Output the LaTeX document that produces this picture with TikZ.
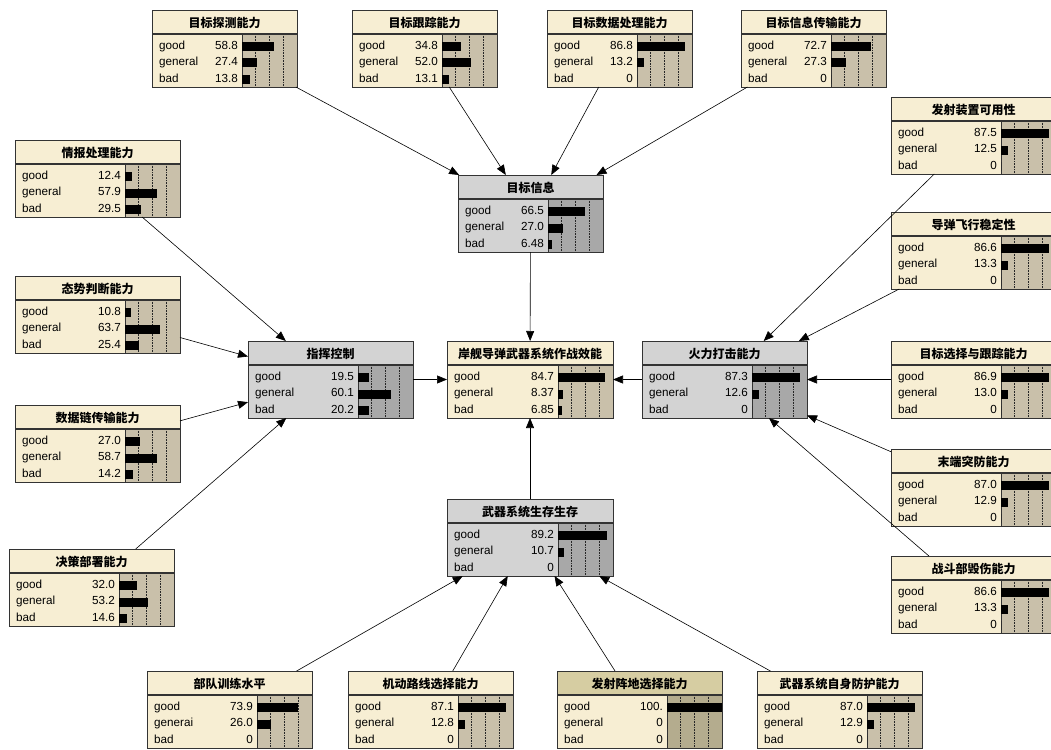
\documentclass[tikz,border=0pt]{standalone}
\usepackage{fontspec}
\setmainfont{Liberation Sans}
\newfontfamily\cjk{Noto Sans CJK SC}
\usetikzlibrary{arrows.meta}

\definecolor{creambody}{RGB}{247,238,211}
\definecolor{creamhead}{RGB}{247,238,211}
\definecolor{creambars}{RGB}{201,192,170}
\definecolor{greybody}{RGB}{211,211,211}
\definecolor{greyhead}{RGB}{211,211,211}
\definecolor{greybars}{RGB}{168,168,168}
\definecolor{khakibody}{RGB}{247,238,211}
\definecolor{khakihead}{RGB}{214,205,162}
\definecolor{khakibars}{RGB}{180,172,142}

\tikzset{
    nbox/.style={inner sep=0pt, outer sep=0pt, minimum height=77pt},
    nline/.style={draw=black!80, line width=0.8pt},
    gridline/.style={densely dotted, line width=0.6pt, black!85},
    ntitle/.style={inner sep=0pt, font=\cjk\bfseries\fontsize{12}{14}\selectfont},
    nstate/.style={anchor=mid west, inner sep=0pt, font=\fontsize{11.7}{14}\selectfont},
    nvalue/.style={anchor=mid east, inner sep=0pt, font=\fontsize{11.7}{14}\selectfont},
    link/.style={-{Triangle[length=10pt,width=8pt]}, line width=0.6pt}
}

\newcommand{\midstate}{general}
% name, left, top, width, colours, title, good, general, bad
\newcommand{\bnbox}[9]{%
    \node[nbox, minimum width=#4pt, fill=#5body, anchor=north west] (#1) at (#2,#3) {};
    \fill[#5head] (#2,#3) rectangle ++(#4,24);
    \fill[#5bars] (#2+#4-55,#3+24) rectangle (#2+#4,#3+77);
    \foreach \k in {1,2,3}
        \draw[gridline] (#2+#4-55+13.75*\k,#3+24) -- ++(0,53);
    \draw[nline] (#2+#4-55,#3+24) -- ++(0,53);
    \draw[nline, line width=1.2pt] (#2,#3+24) -- ++(#4,0);
    \draw[nline] (#2,#3) rectangle ++(#4,77);
    \node[ntitle] at (#2+#4/2,#3+13) {#6};
    \foreach \lab/\val/\dy in {good/#7/36.5, \midstate/#8/53, bad/#9/69.5} {
        \node[nstate] at (#2+7,#3+\dy) {\lab};
        \node[nvalue] at (#2+#4-59,#3+\dy) {\val};
        \fill (#2+#4-55,#3+\dy-4.5) rectangle ++(0.55*\val,9);
    }
}

\begin{document}
\begin{tikzpicture}[x=1pt, y=-1pt]
    \useasboundingbox (0,0) rectangle (1051,749);
    \clip (0,0) rectangle (1051,749);

    \bnbox{tance}{152}{10}{145}{cream}{目标探测能力}{58.8}{27.4}{13.8}
    \bnbox{genzong}{352}{10}{145}{cream}{目标跟踪能力}{34.8}{52.0}{13.1}
    \bnbox{chuli}{547}{10}{145}{cream}{目标数据处理能力}{86.8}{13.2}{0}
    \bnbox{chuanshu}{741}{10}{145}{cream}{目标信息传输能力}{72.7}{27.3}{0}

    \bnbox{mubiao}{458}{175}{145}{grey}{目标信息}{66.5}{27.0}{6.48}

    \bnbox{qingbao}{15}{140}{165}{cream}{情报处理能力}{12.4}{57.9}{29.5}
    \bnbox{taishi}{15}{276}{165}{cream}{态势判断能力}{10.8}{63.7}{25.4}
    \bnbox{lianlu}{15}{405}{165}{cream}{数据链传输能力}{27.0}{58.7}{14.2}
    \bnbox{juece}{9}{549}{165}{cream}{决策部署能力}{32.0}{53.2}{14.6}

    \bnbox{zhihui}{248}{341}{165}{grey}{指挥控制}{19.5}{60.1}{20.2}
    \bnbox{xiaoneng}{447}{341}{166}{cream}{岸舰导弹武器系统作战效能}{84.7}{8.37}{6.85}
    \bnbox{huoli}{642}{341}{165}{grey}{火力打击能力}{87.3}{12.6}{0}
    \bnbox{shengcun}{447}{499}{166}{grey}{武器系统生存生存}{89.2}{10.7}{0}

    \bnbox{fashe}{891}{97}{165}{cream}{发射装置可用性}{87.5}{12.5}{0}
    \bnbox{wending}{891}{212}{165}{cream}{导弹飞行稳定性}{86.6}{13.3}{0}
    \bnbox{xuanze}{891}{341}{165}{cream}{目标选择与跟踪能力}{86.9}{13.0}{0}
    \bnbox{tufang}{891}{449}{165}{cream}{末端突防能力}{87.0}{12.9}{0}
    \bnbox{huishang}{891}{556}{165}{cream}{战斗部毁伤能力}{86.6}{13.3}{0}

    \begin{scope}
        \renewcommand{\midstate}{generai}
        \bnbox{xunlian}{147}{671}{165}{cream}{部队训练水平}{73.9}{26.0}{0}
    \end{scope}
    \bnbox{jidong}{348}{671}{165}{cream}{机动路线选择能力}{87.1}{12.8}{0}
    \bnbox{zhendi}{557}{671}{165}{khaki}{发射阵地选择能力}{100.}{0}{0}
    \bnbox{fanghu}{757}{671}{165}{cream}{武器系统自身防护能力}{87.0}{12.9}{0}

    \draw[link] (tance) -- (mubiao);
    \draw[link] (genzong) -- (mubiao);
    \draw[link] (chuli) -- (mubiao);
    \draw[link] (chuanshu) -- (mubiao);
    \draw[link] (mubiao) -- (xiaoneng);

    \draw[link] (qingbao) -- (zhihui);
    \draw[link] (taishi) -- (zhihui);
    \draw[link] (lianlu) -- (zhihui);
    \draw[link] (juece) -- (zhihui);
    \draw[link] (zhihui) -- (xiaoneng);

    \draw[link] (fashe) -- (huoli);
    \draw[link] (wending) -- (huoli);
    \draw[link] (xuanze) -- (huoli);
    \draw[link] (tufang) -- (huoli);
    \draw[link] (huishang) -- (huoli);
    \draw[link] (huoli) -- (xiaoneng);

    \draw[link] (xunlian) -- (shengcun);
    \draw[link] (jidong) -- (shengcun);
    \draw[link] (zhendi) -- (shengcun);
    \draw[link] (fanghu) -- (shengcun);
    \draw[link] (shengcun) -- (xiaoneng);
\end{tikzpicture}
\end{document}
